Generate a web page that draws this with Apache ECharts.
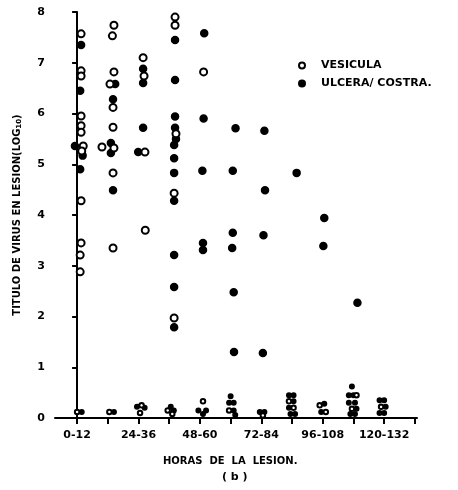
<!DOCTYPE html>
<html>
<head>
<meta charset="utf-8">
<script src="https://cdn.jsdelivr.net/npm/echarts@6/dist/echarts.min.js"></script>
<style>
html,body{margin:0;padding:0;background:#fff;}
#chart{width:458px;height:490px;}
</style>
</head>
<body>
<div id="chart"></div>
<script>
// Time-since-lesion categories (hours); x values below are positions on this index scale
var categories = ["0-12","12-24","24-36","36-48","48-60","60-72","72-84","84-96","96-108","108-120","120-132"];
var labelledCategories = [0, 2, 4, 6, 8, 10];
var yTicks = [0,1,2,3,4,5,6,7,8];

// VESICULA (open circles): [category position, log10 titre]
var vesicula = [
  [0.13,7.57],[0.13,6.84],[0.13,6.74],[0.13,5.95],[0.13,5.76],[0.13,5.63],[0.2,5.36],[0.15,5.26],
  [0.13,4.28],[0.13,3.45],[0.1,3.21],[0.1,2.88],
  [1.2,7.74],[1.15,7.53],[1.2,6.82],[1.07,6.58],[1.17,6.12],[1.17,5.73],[0.81,5.34],[1.2,5.32],
  [1.17,4.83],[1.17,3.35],
  [2.15,7.1],[2.18,6.74],[2.21,5.24],[2.22,3.7],
  [3.19,7.9],[3.19,7.74],[3.22,5.6],[3.16,4.43],[3.16,1.97],
  [4.12,6.82],
  // near-zero titres
  [0.0,0.12],[1.05,0.12],[2.1,0.25],[2.05,0.1],[2.95,0.15],[3.1,0.08],[4.1,0.33],
  [4.95,0.15],[6.05,0.05],[6.9,0.33],[7.05,0.2],[7.9,0.25],[8.1,0.12],[9.1,0.45],
  [8.95,0.18],[9.9,0.22]
];

// ULCERA / COSTRA (filled circles)
var ulcera = [
  [0.13,7.35],[0.1,6.45],[-0.07,5.36],[0.18,5.17],[0.1,4.9],
  [1.24,6.58],[1.17,6.28],[1.1,5.42],[1.1,5.22],[1.17,4.49],
  [2.15,6.88],[2.15,6.6],[2.15,5.72],[1.99,5.24],
  [3.19,7.45],[3.19,6.66],[3.19,5.94],[3.19,5.72],[3.22,5.5],[3.16,5.38],[3.16,5.12],[3.16,4.83],
  [3.16,4.28],[3.16,3.21],[3.16,2.58],[3.16,1.79],
  [4.14,7.58],[4.12,5.9],[4.08,4.87],[4.1,3.45],[4.1,3.31],
  [5.16,5.71],[5.07,4.87],[5.07,3.65],[5.05,3.35],[5.1,2.48],[5.11,1.3],
  [6.1,5.66],[6.12,4.49],[6.07,3.6],[6.05,1.28],
  [7.15,4.83],
  [8.05,3.94],[8.02,3.39],
  [9.13,2.27],
  // near-zero titres
  [0.15,0.12],[1.2,0.12],[1.95,0.22],[2.2,0.2],[3.05,0.22],[3.15,0.15],[3.95,0.15],[4.2,0.15],
  [4.1,0.08],[5.0,0.43],[4.95,0.3],[5.1,0.3],[5.1,0.15],[5.15,0.06],[5.95,0.12],[6.1,0.12],
  [6.9,0.45],[7.05,0.45],[7.05,0.33],[6.9,0.2],[6.95,0.08],[7.1,0.08],[8.05,0.28],[7.95,0.12],
  [8.95,0.62],[8.85,0.45],[9.0,0.45],[8.85,0.3],[9.05,0.3],[9.1,0.18],[8.9,0.08],[9.05,0.08],
  [9.85,0.35],[10.0,0.35],[10.05,0.22],[9.85,0.1],[10.0,0.1]
];

var FONT = 'DejaVu Sans';
var chart = echarts.init(document.getElementById('chart'), null, {renderer:'canvas'});
function sizeOf(v){ return v[1] < 0.7 ? 4.5 : 7; }

chart.setOption({
  animation: false,
  backgroundColor: '#fff',
  grid: {left: 55, right: 41, top: 12, bottom: 72},
  legend: {
    orient: 'vertical', left: 293, top: 55,
    itemWidth: 6, itemHeight: 6, itemGap: 7,
    data: ['VESICULA', 'ULCERA/ COSTRA.'],
    textStyle: {color:'#000', fontFamily: FONT, fontWeight:'bold', fontSize: 11, padding:[0,0,0,11]}
  },
  xAxis: {
    type: 'value', min: -0.72, max: 11.07,
    splitLine: {show:false},
    axisLine: {show:true, onZero:false, lineStyle:{color:'#000', width:2}},
    axisTick: {show:true, length:6, lineStyle:{color:'#000', width:2},
      customValues: categories.map(function(c,i){return i;}).concat([11])},
    axisLabel: {customValues: labelledCategories, margin: 12,
      color:'#000', fontFamily: FONT, fontWeight:'bold', fontSize: 11,
      formatter: function(v){ return categories[Math.round(v)] || ''; }}
  },
  yAxis: {
    type: 'value', min: 0, max: 8, interval: 1,
    splitLine: {show:false},
    axisLine: {show:true, lineStyle:{color:'#000', width:2}},
    axisTick: {show:true, length:5, lineStyle:{color:'#000', width:2}},
    axisLabel: {color:'#000', fontFamily: FONT, fontWeight:'bold', fontSize: 11, margin: 10,
      formatter: function(v){ return yTicks.indexOf(v) >= 0 ? String(v) : ''; }},
    name: '{a|TITULO DE VIRUS EN LESION(LOG}{s|10}{a|)}',
    nameLocation: 'middle', nameRotate: 90, nameGap: 32,
    nameTextStyle: {rich: {
      a: {color:'#000', fontFamily: FONT, fontWeight:'bold', fontSize: 10},
      s: {color:'#000', fontFamily: FONT, fontWeight:'bold', fontSize: 7, verticalAlign:'bottom', padding:[4,0,0,0]}
    }}
  },
  graphic: [
    {type:'text', left: 163, top: 456, style:{text:'HORAS  DE  LA  LESION.', fill:'#000', font:'bold 10px "DejaVu Sans"'}},
    {type:'text', left: 222, top: 472, style:{text:'( b )', fill:'#000', font:'bold 11px "DejaVu Sans"'}}
  ],
  series: [
    {name:'VESICULA', type:'scatter', data: vesicula, symbol:'circle', symbolSize: sizeOf,
      itemStyle:{color:'#fff', borderColor:'#000', borderWidth:2, opacity:1}, z: 3},
    {name:'ULCERA/ COSTRA.', type:'scatter', data: ulcera, symbol:'circle', symbolSize: sizeOf,
      itemStyle:{color:'#000', borderColor:'#000', borderWidth:1.5, opacity:1}, z: 2}
  ]
});
</script>
</body>
</html>
